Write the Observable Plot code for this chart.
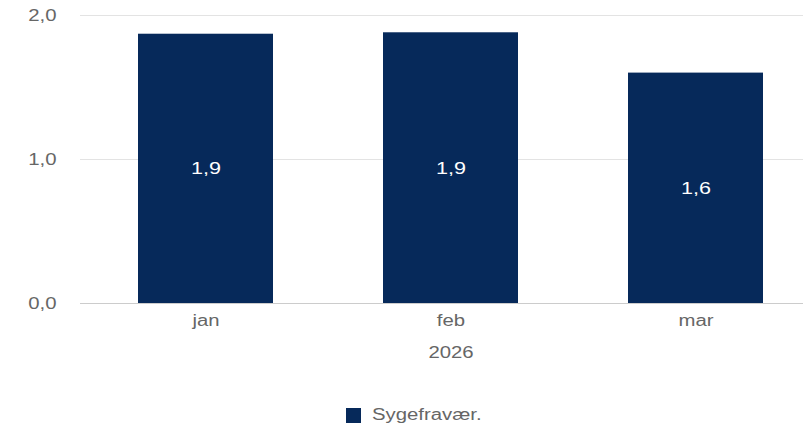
<!DOCTYPE html>
<html>
<head>
<meta charset="utf-8">
<script src="https://cdn.jsdelivr.net/npm/d3@7"></script>
<script src="https://cdn.jsdelivr.net/npm/@observablehq/plot@0.6"></script>
<style>
  html, body { margin: 0; padding: 0; background: #fff; }
  body { width: 803px; height: 432px; overflow: hidden; font-family: "Liberation Sans", Arial, sans-serif; }
  #legend { position: relative; height: 47px; }
  #legend .sw { position: absolute; left: 346px; top: 23px; width: 15px; height: 15px; background: #06295a; }
  #legend .lb { position: absolute; left: 372px; top: 21px; font-size: 16px; line-height: 18px; color: #666;
                transform: scaleX(1.27); transform-origin: 0 50%; white-space: nowrap; }
</style>
</head>
<body>
<div id="chart"></div>
<div id="legend"><div class="sw"></div><div class="lb"></div></div>
<script>
const months = ["jan", "feb", "mar"];
const values = [1.87, 1.88, 1.60];
const yTicks = [0, 1, 2];
const yearLabel = "2026";
const seriesName = "Sygefravær.";

const data = months.map((m, i) => ({month: m, value: values[i]}));
const fmt = d3.formatLocale({decimal: ",", thousands: ".", grouping: [3], currency: ["", " kr"]}).format(".1f");

const chart = Plot.plot({
  width: 803,
  height: 385,
  marginLeft: 80,
  marginRight: 0,
  marginTop: 15,
  marginBottom: 82,
  style: {fontFamily: "'Liberation Sans', Arial, sans-serif", fontSize: "16px", color: "#666", background: "#fff"},
  x: {domain: months, range: [81.75, 818.25], paddingInner: 0.45, paddingOuter: 0.225, label: null},
  y: {domain: [0, 2], label: null},
  marks: [
    Plot.ruleY(yTicks.filter(t => t > 0), {stroke: "#e3e3e3", strokeWidth: 1}),
    Plot.barY(data, {x: "month", y: "value", fill: "#06295a"}),
    Plot.ruleY([0], {stroke: "#cccccc", strokeWidth: 1.2}),
    Plot.text(data, {x: "month", y: d => d.value / 2, text: d => fmt(d.value), fill: "white", fontSize: 17}),
    Plot.axisY({ticks: yTicks, tickFormat: fmt, tickSize: 0, tickPadding: 24, fontSize: 16, fill: "#666"}),
    Plot.axisX({tickSize: 0, tickPadding: 11, fontSize: 16, fill: "#666"}),
    Plot.text([yearLabel], {x: () => months[1], y: () => 0, text: d => d, dy: 49, fontSize: 16, fill: "#666"})
  ]
});
document.getElementById("chart").appendChild(chart);
document.querySelector("#legend .lb").textContent = seriesName;

// the reference text is horizontally stretched; widen glyphs in place
chart.querySelectorAll("text").forEach(t => {
  const w = t.getComputedTextLength();
  if (w > 0) {
    t.setAttribute("textLength", (w * 1.27).toFixed(1));
    t.setAttribute("lengthAdjust", "spacingAndGlyphs");
  }
});
</script>
</body>
</html>
